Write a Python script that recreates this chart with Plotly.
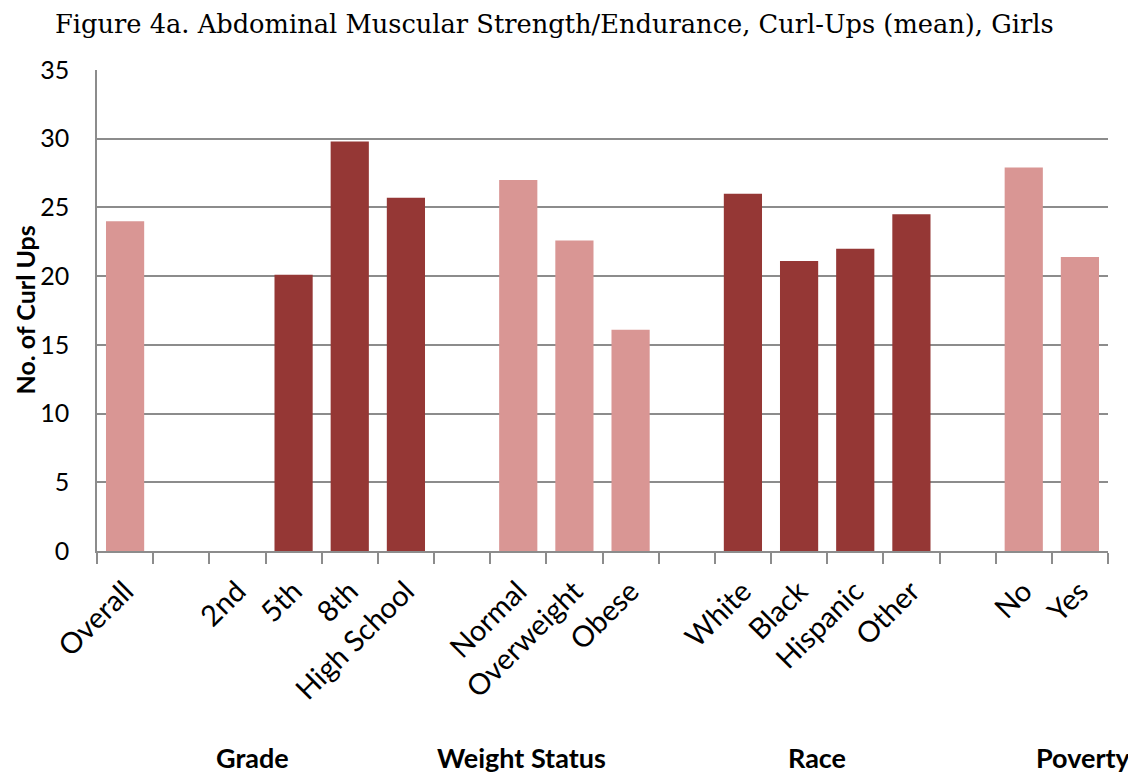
import plotly.graph_objects as go

# categories in plot order; blank spacers keep the gaps between groups
categories = ["Overall", " ", "2nd", "5th", "8th", "High School", "  ",
              "Normal", "Overweight", "Obese", "   ",
              "White", "Black", "Hispanic", "Other", "    ", "No", "Yes"]
curl_ups = [24.0, None, None, 20.1, 29.8, 25.7, None,
            27.0, 22.6, 16.1, None,
            26.0, 21.1, 22.0, 24.5, None, 27.9, 21.4]
# which shade each bar gets: 0 = light, 1 = dark
shade = [0, 0, 1, 1, 1, 1, 0, 0, 0, 0, 0, 1, 1, 1, 1, 0, 0, 0]
group_labels = ["Grade", "Weight Status", "Race", "Poverty"]
group_x = [2.26, 7.05, 12.32, 17.07]

LIGHT = "#D99694"
DARK = "#953735"
GRID = "#8C8C8C"
SANS = "Lato, Calibri, Carlito, sans-serif"

# the page body adds an 8px margin on the top/left, so shrink the figure to fit
W, H = 1128, 766
L, R, T, B = 89, 28, 62, 223
plot_w = W - L - R

fig = go.Figure(go.Bar(
    x=categories, y=curl_ups,
    marker={"color": [DARK if s else LIGHT for s in shade], "line": {"width": 0}},
    hoverinfo="x+y",
))

for label, xpos in zip(group_labels, group_x):
    fig.add_annotation(
        text=f"<b>{label}</b>", x=xpos, xref="x", y=-0.43, yref="paper",
        yanchor="middle", xanchor="center", showarrow=False,
        font={"family": SANS, "size": 27, "color": "black"},
    )

# y-axis title as a rotated annotation so it sits where the reference has it
fig.add_annotation(
    text="<b>No. of Curl Ups</b>", textangle=-90,
    x=(16 - L) / plot_w, xref="paper", xanchor="center",
    y=0.5, yref="paper", yanchor="middle", showarrow=False,
    font={"family": SANS, "size": 25, "color": "black"},
)

fig.update_layout(
    width=W, height=H,
    margin={"l": L, "r": R, "t": T, "b": B},
    paper_bgcolor="white", plot_bgcolor="white",
    bargap=0.32,
    showlegend=False,
    title={
        "text": "Figure 4a. Abdominal Muscular Strength/Endurance, Curl-Ups (mean), Girls",
        "x": 47 / W, "xanchor": "left", "xref": "container",
        "y": 1 - 16 / H, "yanchor": "middle", "yref": "container",
        "font": {"family": "DejaVu Serif, Georgia, serif", "size": 25.7, "color": "black"},
    },
    xaxis={
        "type": "category",
        "range": [-0.5, len(categories) - 0.5],
        "automargin": False,
        "tickson": "boundaries",
        "ticks": "outside", "ticklen": 11, "tickwidth": 1.5, "tickcolor": GRID,
        "showline": True, "linecolor": GRID, "linewidth": 1.5,
        "showgrid": False,
        "tickangle": -45,
        "ticklabelstandoff": 10,
        "tickfont": {"family": SANS, "size": 29, "color": "black"},
    },
    yaxis={
        "automargin": False,
        "range": [0, 35], "dtick": 5,
        "showgrid": True, "gridcolor": GRID, "gridwidth": 1.5,
        "showline": True, "linecolor": GRID, "linewidth": 1.5,
        "zeroline": False,
        "ticks": "", "ticklabelstandoff": 21,
        "tickfont": {"family": SANS, "size": 25, "color": "black"},
    },
)

fig.write_html("out.html")
